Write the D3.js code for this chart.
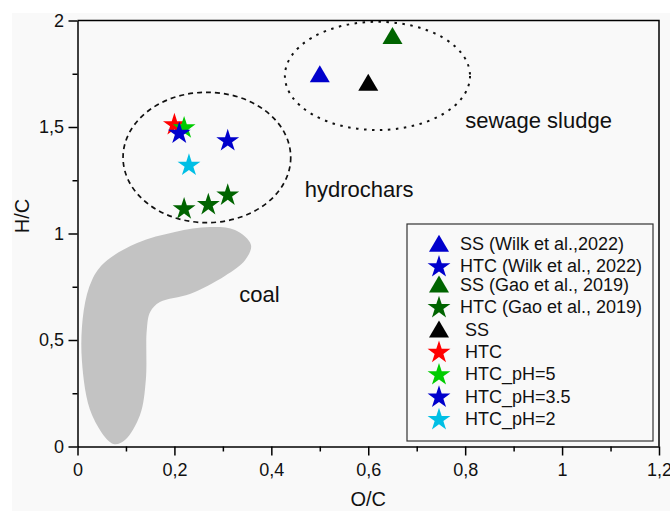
<!DOCTYPE html>
<html>
<head>
<meta charset="utf-8">
<script src="https://cdn.jsdelivr.net/npm/d3@7"></script>
<style>
  body { margin: 0; background: #ffffff; }
  svg { display: block; font-family: "Liberation Sans", Arial, sans-serif; }
</style>
</head>
<body>
<div id="chart"></div>
<script>
// data (O/C, H/C)
const ssWilk = [{ oc: 0.50, hc: 1.75 }];
const htcWilk = [{ oc: 0.31, hc: 1.435 }];
const ssGao = [{ oc: 0.65, hc: 1.93 }];
const htcGao = [{ oc: 0.22, hc: 1.115 }, { oc: 0.27, hc: 1.135 }, { oc: 0.31, hc: 1.18 }];
const ssOwn = [{ oc: 0.60, hc: 1.71 }];
const htcOwn = [{ oc: 0.20, hc: 1.51 }];
const htcPH5 = [{ oc: 0.22, hc: 1.495 }];
const htcPH35 = [{ oc: 0.21, hc: 1.47 }];
const htcPH2 = [{ oc: 0.23, hc: 1.32 }];

const seriesNames = ["SS (Wilk et al.,2022)", "HTC (Wilk et al., 2022)", "SS (Gao et al., 2019)",
  "HTC (Gao et al., 2019)", "SS", "HTC", "HTC_pH=5", "HTC_pH=3.5", "HTC_pH=2"];

// coal region outline
const coalOutline = [
  [0.074, 0.012], [0.030, 0.148], [0.009, 0.406], [0.013, 0.641], [0.030, 0.782],
  [0.057, 0.866], [0.123, 0.955], [0.201, 1.007], [0.273, 1.030], [0.325, 1.016],
  [0.358, 0.946], [0.346, 0.876], [0.304, 0.801], [0.232, 0.716], [0.170, 0.678],
  [0.150, 0.631], [0.143, 0.547], [0.141, 0.312], [0.129, 0.148], [0.098, 0.031]
];

// grouping ellipses: centre and radii in data units
const hydrocharZone = { oc: 0.267, hc: 1.357, roc: 0.173, rhc: 0.306 };
const sludgeZone = { oc: 0.619, hc: 1.740, roc: 0.191, rhc: 0.254 };

const regionLabels = [
  { text: "sewage sludge", oc: 0.80, hc: 1.494 },
  { text: "hydrochars", oc: 0.469, hc: 1.173 },
  { text: "coal", oc: 0.334, hc: 0.680 }
];

const xTicks = [0, 0.2, 0.4, 0.6, 0.8, 1, 1.2];
const xMinor = [0.1, 0.3, 0.5, 0.7, 0.9, 1.1];
const yTicks = [0, 0.5, 1, 1.5, 2];
const yMinor = [0.25, 0.75, 1.25, 1.75];

const width = 670, height = 511;
const plotLeft = 77.5, plotRight = 659, plotTop = 20.5, plotBottom = 446.5;

const svg = d3.select("#chart").append("svg")
    .attr("width", width)
    .attr("height", height);

// light panel behind everything
svg.append("rect")
    .attr("x", 12).attr("y", 13)
    .attr("width", width - 12).attr("height", height - 13)
    .attr("fill", "#f9f9f9");

const x = d3.scaleLinear().domain([0, 1.2]).range([plotLeft, plotRight]);
const y = d3.scaleLinear().domain([0, 2]).range([plotBottom, plotTop]);

const fmt = d => String(d).replace(".", ",");

// coal area
svg.append("path")
    .datum(coalOutline)
    .attr("d", d3.line().x(d => x(d[0])).y(d => y(d[1])).curve(d3.curveCatmullRomClosed.alpha(0.5)))
    .attr("fill", "#c3c3c3");

// ellipses
function zone(z, dash, w) {
    svg.append("ellipse")
        .attr("cx", x(z.oc)).attr("cy", y(z.hc))
        .attr("rx", x(z.roc) - x(0)).attr("ry", y(0) - y(z.rhc))
        .attr("fill", "none")
        .attr("stroke", "#111")
        .attr("stroke-width", w)
        .attr("stroke-dasharray", dash);
}
zone(hydrocharZone, "5,4", 1.7);
zone(sludgeZone, "2.5,5.5", 2);

svg.selectAll("text.region")
    .data(regionLabels)
    .enter().append("text")
    .attr("class", "region")
    .attr("x", d => x(d.oc))
    .attr("y", d => y(d.hc))
    .attr("font-size", 22)
    .attr("fill", "#111")
    .text(d => d.text);

// axes
const axisColor = "#000";
svg.append("g").attr("transform", `translate(0,${plotBottom})`)
    .call(d3.axisBottom(x).tickValues(xTicks).tickFormat(fmt).tickSizeInner(9).tickSizeOuter(0).tickPadding(7.5));
svg.append("g").attr("transform", `translate(0,${plotBottom})`)
    .call(d3.axisBottom(x).tickValues(xMinor).tickFormat("").tickSizeInner(5).tickSizeOuter(0))
    .select(".domain").remove();
svg.append("g").attr("transform", `translate(${plotLeft},0)`)
    .call(d3.axisLeft(y).tickValues(yTicks).tickFormat(fmt).tickSizeInner(9).tickSizeOuter(0).tickPadding(4.5));
svg.append("g").attr("transform", `translate(${plotLeft},0)`)
    .call(d3.axisLeft(y).tickValues(yMinor).tickFormat("").tickSizeInner(5).tickSizeOuter(0))
    .select(".domain").remove();

svg.selectAll(".tick line, .domain").attr("stroke", axisColor).attr("stroke-width", 1.5);
svg.selectAll(".tick text").attr("font-size", 18).attr("fill", "#111")
    .attr("font-family", "Liberation Sans, Arial, sans-serif");

// frame top and right
svg.append("path")
    .attr("d", `M${plotLeft},${plotTop}H${plotRight}V${plotBottom}`)
    .attr("fill", "none")
    .attr("stroke", axisColor)
    .attr("stroke-width", 1.5);

svg.append("text")
    .attr("x", (plotLeft + plotRight) / 2).attr("y", 506)
    .attr("text-anchor", "middle")
    .attr("font-size", 20).attr("fill", "#111")
    .text("O/C");
svg.append("text")
    .attr("transform", "translate(29,216) rotate(-90)")
    .attr("text-anchor", "middle")
    .attr("font-size", 20).attr("fill", "#111")
    .text("H/C");

// markers
const triangle = (w, h) => `M0,${-h / 2}L${w / 2},${h / 2}L${-w / 2},${h / 2}Z`;
const star = d3.symbol().type(d3.symbolStar).size(162)();

const series = [
    { data: ssWilk, shape: "tri", color: "#0000cc" },
    { data: htcWilk, shape: "star", color: "#0000cc" },
    { data: ssGao, shape: "tri", color: "#006400" },
    { data: htcGao, shape: "star", color: "#006400" },
    { data: ssOwn, shape: "tri", color: "#000000" },
    { data: htcOwn, shape: "star", color: "#ff0000" },
    { data: htcPH5, shape: "star", color: "#00cc00" },
    { data: htcPH35, shape: "star", color: "#0000cc" },
    { data: htcPH2, shape: "star", color: "#00bfe5" }
];
series.forEach((s, i) => s.name = seriesNames[i]);

series.forEach(s => {
    svg.append("g").selectAll("path")
        .data(s.data)
        .enter().append("path")
        .attr("transform", d => `translate(${x(d.oc)},${y(d.hc)})`)
        .attr("d", s.shape === "tri" ? triangle(20, 17) : star)
        .attr("fill", s.color);
});

// legend
const legend = svg.append("g");
legend.append("rect")
    .attr("x", 407).attr("y", 224)
    .attr("width", 246).attr("height", 217)
    .attr("fill", "#f9f9f9")
    .attr("stroke", "#333")
    .attr("stroke-width", 1.2);

const row = legend.selectAll("g.row")
    .data(series)
    .enter().append("g")
    .attr("class", "row")
    .attr("transform", (d, i) => `translate(0,${250 + 22.4 * i - (i >= 2 ? 4 : 0)})`);

row.append("path")
    .attr("transform", d => d.shape === "tri" ? "translate(439,-6.7)" : "translate(439,-5.5)")
    .attr("d", d => d.shape === "tri" ? triangle(20, 17) : star)
    .attr("fill", d => d.color);

row.append("text")
    .attr("x", (d, i) => i < 4 ? 460 : 465)
    .attr("y", 0)
    .attr("font-size", 18)
    .attr("fill", "#111")
    .text(d => d.name);
</script>
</body>
</html>
